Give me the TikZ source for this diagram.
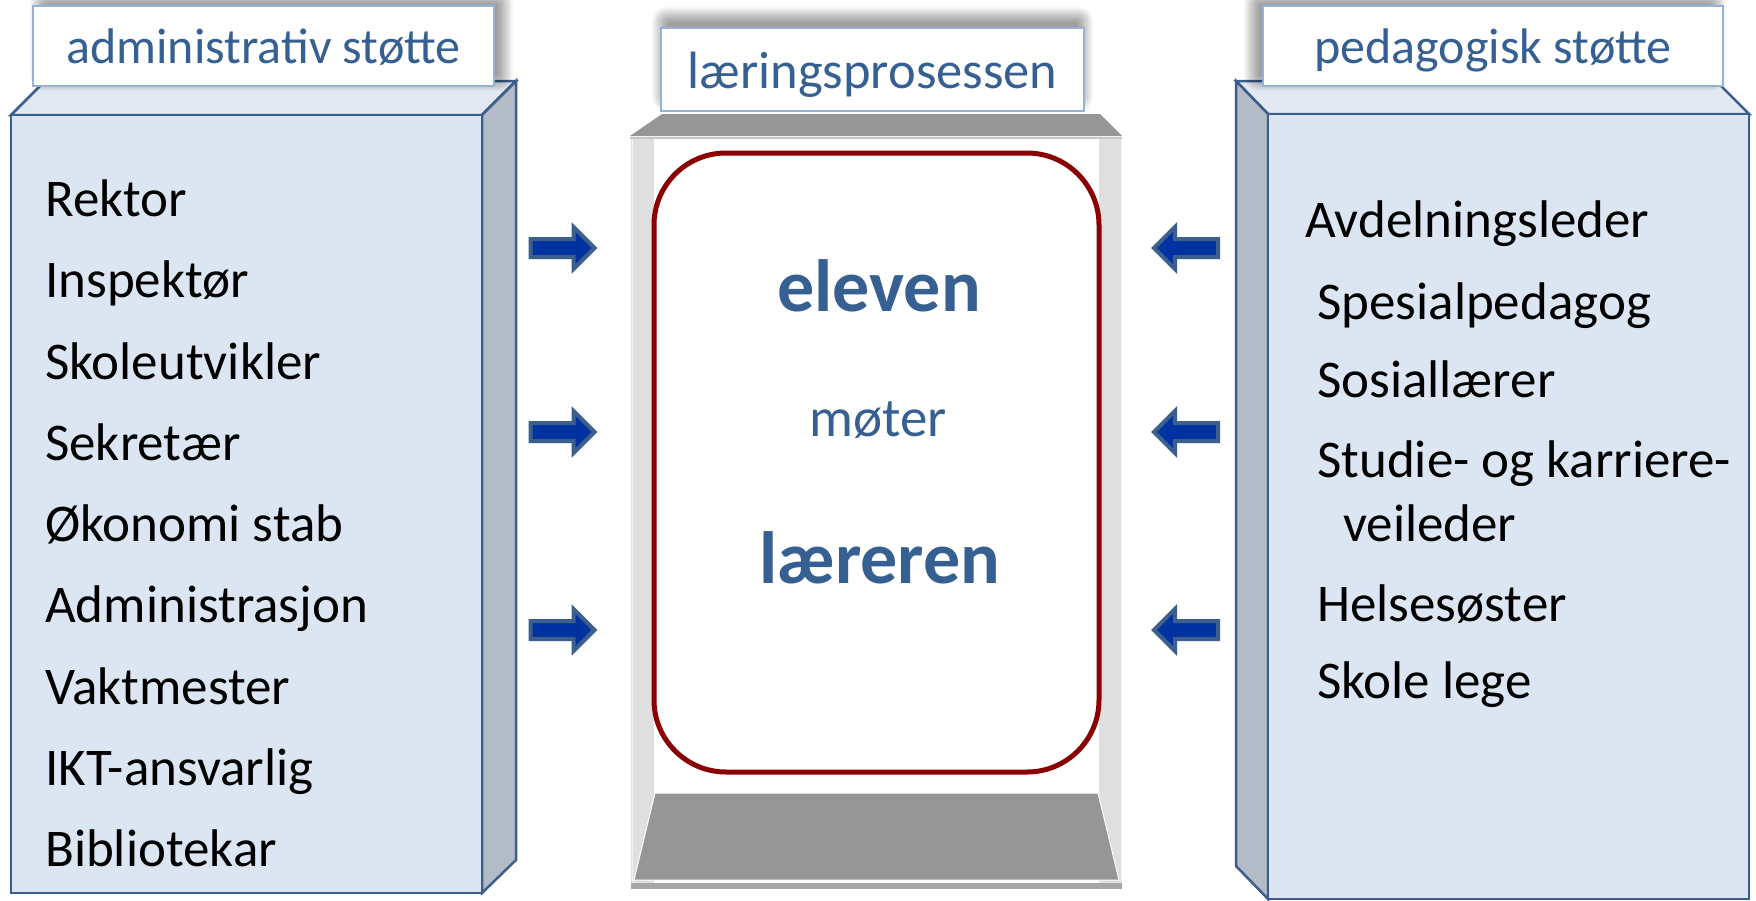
\documentclass[tikz,border=0pt]{standalone}
\usepackage{fontspec}
\setmainfont{Carlito}
\definecolor{txtblue}{HTML}{376092}
\definecolor{lblborder}{HTML}{95B3D7}
\definecolor{boxfront}{HTML}{DCE6F2}
\definecolor{boxtop}{HTML}{E2E9F3}
\definecolor{boxside}{HTML}{B2BBC6}
\definecolor{boxline}{HTML}{3B5E8C}
\definecolor{arrfill}{HTML}{0033A0}
\definecolor{arrline}{HTML}{3C5F8E}
\definecolor{framered}{HTML}{8B0000}
\definecolor{standgray}{HTML}{969696}
\definecolor{pillargray}{HTML}{DFDFDF}
\newcommand\lblshadow[4]{%
  \foreach \k in {1,...,14}{%
    \fill[black, opacity=0.032, rounded corners={\k*1pt}] ({#1-\k*1.2+6},{#2-\k*1.2+6}) rectangle ({#3+\k*1.2-6},{#4+\k*1.2-6});
  }%
}
\begin{document}
\begin{tikzpicture}[x=1pt,y=-1pt,
  boxface/.style={draw=boxline, line width=2.5pt, line join=miter},
  lbl/.style={draw=lblborder, fill=white, line width=1.5pt, text=txtblue,
    font=\fontsize{50}{60}\selectfont, inner sep=0pt, text height=35pt, text depth=0pt},
  item/.style={anchor=base west, inner sep=0pt, font=\fontsize{53}{64}\selectfont, text=black},
  bigword/.style={anchor=base, inner sep=0pt, text=txtblue, font=\fontsize{74}{88}\selectfont\bfseries},
  midword/.style={anchor=base, inner sep=0pt, text=txtblue, font=\fontsize{55}{66}\selectfont},
  arrowshape/.style={fill=arrfill, draw=arrline, line width=4pt, line join=miter},
  rarr/.pic={\path[arrowshape] (-32,-9)--(11,-9)--(11,-21)--(32,0)--(11,21)--(11,9)--(-32,9)--cycle;},
  larr/.pic={\path[arrowshape] (32,-9)--(-11,-9)--(-11,-21)--(-32,0)--(-11,21)--(-11,9)--(32,9)--cycle;}
]
\useasboundingbox (0,0) rectangle (1756,900);
\fill[white] (0,0) rectangle (1756,900);

% ---------- left box ----------
\path[boxface, fill=boxtop] (11,115) -- (45,81) -- (516,81) -- (482,115) -- cycle;
\path[boxface, fill=boxside] (482,115) -- (516,81) -- (516,860) -- (482,893) -- cycle;
\path[boxface, fill=boxfront] (11,115) rectangle (482,893);

% ---------- right box ----------
\path[boxface, fill=boxtop] (1236,81) -- (1716,81) -- (1749,114) -- (1268,114) -- cycle;
\path[boxface, fill=boxside] (1236,81) -- (1268,114) -- (1268,899) -- (1236,866) -- cycle;
\path[boxface, fill=boxfront] (1268,114) rectangle (1749,899);

% ---------- center stand ----------
\fill[pillargray] (631,138) rectangle (654,889);
\fill[pillargray] (1099,138) rectangle (1122,889);
\draw[white!90!gray, line width=1pt] (632,138) -- (632,889) (1121,138) -- (1121,889);
\fill[standgray] (662,114) -- (1100,114) -- (1122,136) -- (630,136) -- cycle;
\draw[gray!45, line width=2pt] (630,138) -- (1122,138);
\path[fill=standgray, draw=white, line width=1pt] (655,793) -- (1098,793) -- (1119,880) -- (634,880) -- cycle;
\fill[standgray!85!white] (631,883) rectangle (1122,889);

\node[draw=framered, line width=5pt, rounded corners=72pt, minimum width=445pt,
      minimum height=619pt, inner sep=0pt] (frame) at (876.5,462.5) {};

% ---------- label shadows and labels ----------
\lblshadow{41}{0}{502}{80}
\lblshadow{1255}{0}{1715}{80}
\lblshadow{663}{18}{1082}{100}

\node[lbl, minimum width=461pt, minimum height=80pt] (admlbl) at (263.5,46) {administrativ støtte};
\node[lbl, minimum width=460pt, minimum height=80pt] (pedlbl) at (1493,46) {pedagogisk støtte};
\node[lbl, minimum width=423pt, minimum height=83pt, text height=38pt,
      font=\fontsize{52.5}{62}\selectfont] (lplbl) at (872.5,69.5) {læringsprosessen};

% ---------- center words ----------
\node[bigword] (eleven) at (879,311) {eleven};
\node[midword] (moter) at (878,436) {møter};
\node[bigword] (laereren) at (880,583) {læreren};

% ---------- left list ----------
\node[item] (l1) at (45,216) {Rektor};
\node[item] (l2) at (45,297) {Inspektør};
\node[item] (l3) at (45,379) {Skoleutvikler};
\node[item] (l4) at (45,460) {Sekretær};
\node[item] (l5) at (45,541) {Økonomi stab};
\node[item] (l6) at (45,622) {Administrasjon};
\node[item] (l7) at (45,704) {Vaktmester};
\node[item] (l8) at (45,785) {IKT-ansvarlig};
\node[item] (l9) at (45,866) {Bibliotekar};

% ---------- right list ----------
\node[item] (r1) at (1305,237) {Avdelningsleder};
\node[item] (r2) at (1317,319) {Spesialpedagog};
\node[item] (r3) at (1317,397) {Sosiallærer};
\node[item] (r4) at (1317,477) {Studie- og karriere-};
\node[item] (r5) at (1343,541) {veileder};
\node[item] (r6) at (1317,621) {Helsesøster};
\node[item] (r7) at (1317,698) {Skole lege};

% ---------- arrows ----------
\pic at (562.5,248) {rarr};
\pic at (562.5,432) {rarr};
\pic at (562.5,630) {rarr};
\pic at (1186,248) {larr};
\pic at (1186,432) {larr};
\pic at (1186,630) {larr};
\end{tikzpicture}
\end{document}
